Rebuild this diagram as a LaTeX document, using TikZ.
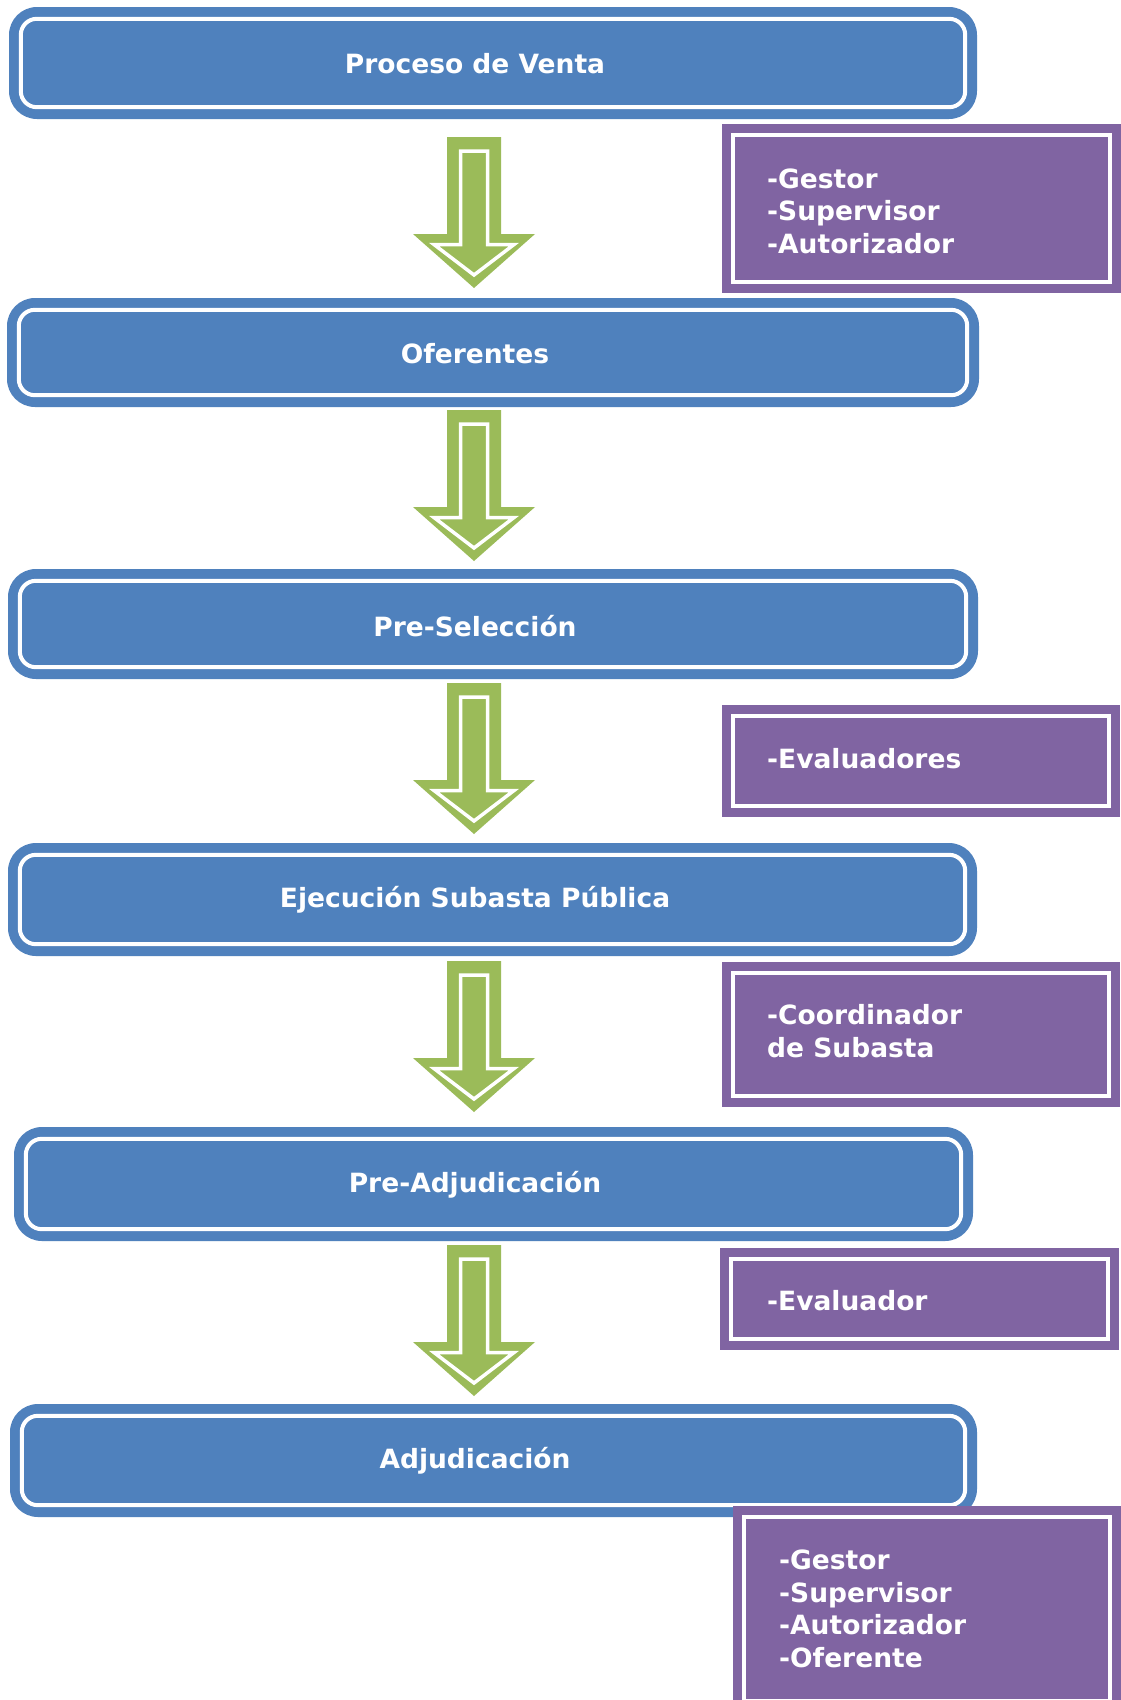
\documentclass[tikz,border=0pt]{standalone}
\usepackage{fontspec}
\setmainfont{DejaVu Sans}
\definecolor{boxblue}{HTML}{4F81BD}
\definecolor{boxpurple}{HTML}{8064A2}
\definecolor{arrowgreen}{HTML}{9BBB59}
\tikzset{
  stagebox/.style={rectangle, rounded corners=28pt, fill=boxblue, inner sep=0pt},
  stageline/.style={draw=white, line width=4pt, rounded corners=16pt},
  stagetext/.style={text=white, font=\fontsize{26.5}{32}\selectfont\bfseries, inner sep=0pt},
  rolebox/.style={rectangle, fill=boxpurple, inner sep=0pt},
  roleline/.style={draw=white, line width=4pt},
  roletext/.style={text=white, font=\fontsize{26.5}{32.5}\selectfont\bfseries, align=left, inner sep=0pt, anchor=west},
  downarrow/.pic={
    \fill[arrowgreen] (-27,0) -- (27,0) -- (27,97) -- (61,97) -- (0,151) -- (-61,97) -- (-27,97) -- cycle;
    \draw[white, line width=3.5pt, fill=arrowgreen, line join=miter]
      (-13.5,14) -- (13.5,14) -- (13.5,107.5) -- (40,107.5) -- (0,138) -- (-40,107.5) -- (-13.5,107.5) -- cycle;
  }
}
\begin{document}
\begin{tikzpicture}[x=1pt,y=-1pt]
\clip (0,0) rectangle (1121,1700);
\fill[white] (0,0) rectangle (1121,1700);

% stage boxes
\node[stagebox, minimum width=968pt, minimum height=112pt] (b1) at (493,63) {};
\node[stagebox, minimum width=972pt, minimum height=109pt] (b2) at (493,352.5) {};
\node[stagebox, minimum width=970pt, minimum height=110pt] (b3) at (493,624) {};
\node[stagebox, minimum width=969pt, minimum height=113pt] (b4) at (492.5,899.5) {};
\node[stagebox, minimum width=959pt, minimum height=114pt] (b5) at (493.5,1184) {};
\node[stagebox, minimum width=967pt, minimum height=113pt] (b6) at (493.5,1460.5) {};
\foreach \n in {b1,b2,b3,b4,b5,b6}
  \draw[stageline] ([shift={(12pt,-12pt)}]\n.north west) rectangle ([shift={(-12pt,12pt)}]\n.south east);

\node[stagetext] (t1) at (475,64) {Proceso de Venta};
\node[stagetext] (t2) at (475,354) {Oferentes};
\node[stagetext] (t3) at (475,626) {Pre-Selección};
\node[stagetext] (t4) at (475,900) {Ejecución Subasta Pública};
\node[stagetext] (t5) at (475,1185) {Pre-Adjudicación};
\node[stagetext] (t6) at (475,1461) {Adjudicación};

% arrows between stages
\coordinate (a1) at (474,137);
\coordinate (a2) at (474,410);
\coordinate (a3) at (474,683);
\coordinate (a4) at (474,961);
\coordinate (a5) at (474,1245);
\foreach \a in {a1,a2,a3,a4,a5}
  \pic at (\a) {downarrow};

% role boxes
\node[rolebox, minimum width=399pt, minimum height=169pt] (p1) at (921.5,208.5) {};
\node[rolebox, minimum width=398pt, minimum height=112pt] (p2) at (921,761) {};
\node[rolebox, minimum width=398pt, minimum height=145pt] (p3) at (921,1034.5) {};
\node[rolebox, minimum width=399pt, minimum height=102pt] (p4) at (919.5,1299) {};
\node[rolebox, minimum width=388pt, minimum height=206pt] (p5) at (927,1609) {};
\foreach \n in {p1,p2,p3,p4,p5}
  \draw[roleline] ([shift={(11pt,-11pt)}]\n.north west) rectangle ([shift={(-11pt,11pt)}]\n.south east);

\node[roletext] (r1) at (767,211) {-Gestor\\-Supervisor\\-Autorizador};
\node[roletext] (r2) at (767,759) {-Evaluadores};
\node[roletext] (r3) at (767,1031) {-Coordinador\\de Subasta};
\node[roletext] (r4) at (767,1301) {-Evaluador};
\node[roletext] (r5) at (779,1609) {-Gestor\\-Supervisor\\-Autorizador\\-Oferente};
\end{tikzpicture}
\end{document}
